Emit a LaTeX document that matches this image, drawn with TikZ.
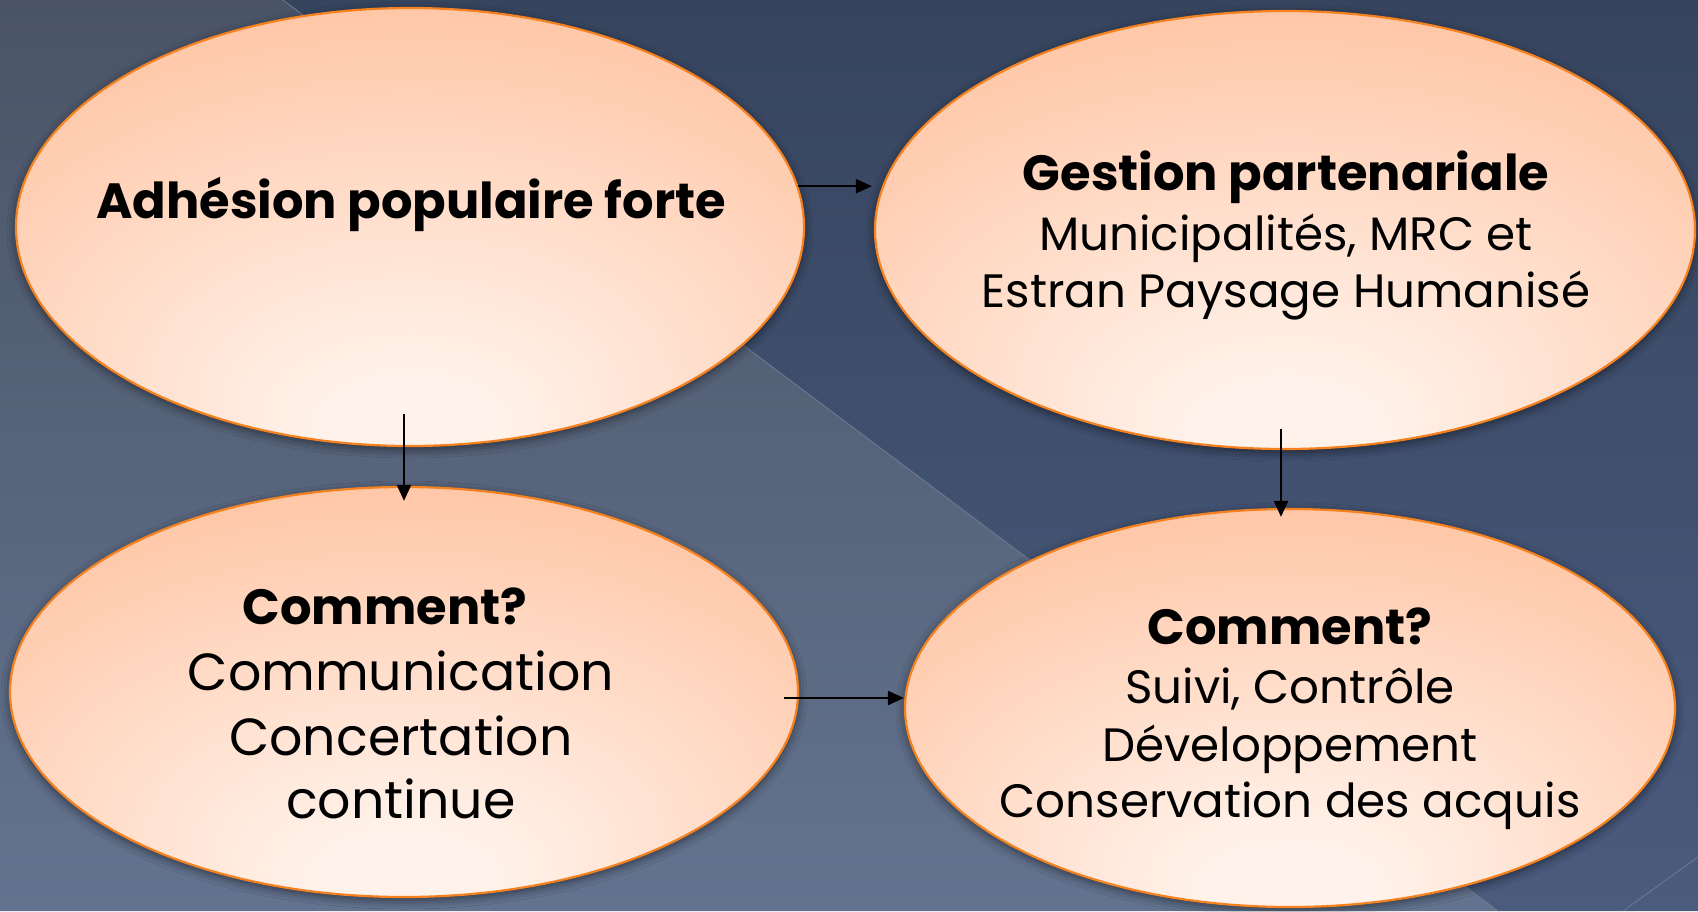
\documentclass[tikz,border=0pt]{standalone}
\usepackage{fontspec}
\setmainfont{Poppins}
\usetikzlibrary{shapes.geometric,arrows.meta,calc,shadows.blur}
\definecolor{bgLtop}{HTML}{4A5466}
\definecolor{bgLbot}{HTML}{63738F}
\definecolor{bgRtop}{HTML}{36445E}
\definecolor{bgRbot}{HTML}{4A5B7E}
\definecolor{pd}{HTML}{FFBD98}
\definecolor{pl}{HTML}{FFF2EA}
\definecolor{edge}{HTML}{F5821F}
\definecolor{seam}{HTML}{6A7A94}
\pgfdeclareradialshading{peachy}{\pgfpoint{0bp}{-26bp}}{color(0bp)=(pl); color(6bp)=(pl); color(40bp)=(pd); color(50bp)=(pd)}
\tikzset{
  bubble/.style={ellipse, draw=edge, line width=2.2pt, shading=peachy,
    blur shadow={shadow xshift=0pt, shadow yshift=-3pt, shadow blur radius=9pt, shadow opacity=55}},
  arr/.style={line width=2.4pt, black, -{Triangle[length=16pt,width=14pt]}},
  tb/.style={font=\fontsize{49.5}{56}\bfseries\selectfont, text=black, inner sep=0pt},
  tr/.style={font=\fontsize{46.8}{54}\selectfont, text=black, inner sep=0pt},
  tc/.style={font=\fontsize{52.2}{60}\selectfont, text=black, inner sep=0pt}
}
\begin{document}
\begin{tikzpicture}[x=1pt,y=-1pt]
\useasboundingbox (0,0) rectangle (1698,911);
% background
\shade[top color=bgRtop, bottom color=bgRbot] (283,0) -- (1698,0) -- (1698,911) -- (1498,911) -- cycle;
\shade[top color=bgLtop, bottom color=bgLbot] (0,0) -- (283,0) -- (1498,911) -- (0,911) -- cycle;
\draw[seam, line width=0.8pt] (283,0) -- (1498,911);
\draw[seam, line width=0.8pt] (1623,911) -- (1698,857);
% ellipses
\node[bubble, minimum width=788pt, minimum height=438pt] (A) at (410,227) {};
\node[bubble, minimum width=820pt, minimum height=438pt] (B) at (1285,230) {};
\node[bubble, minimum width=788pt, minimum height=410pt] (C) at (404,692) {};
\node[bubble, minimum width=770pt, minimum height=398pt] (D) at (1290,708) {};
% texts
\node[tb] (a1) at (411,204) {Adhésion populaire forte};
\node[tb] (b1) at (1286,177) {Gestion partenariale};
\node[tr] (b2) at (1286,238) {Municipalités, MRC et};
\node[tr] (b3) at (1286,296) {Estran Paysage Humanisé};
\node[tb] (c1) at (385,606) {Comment?};
\node[tc] (c2) at (401,671) {Communication};
\node[tc] (c3) at (401,736) {Concertation};
\node[tc] (c4) at (401,799) {continue};
\node[tb] (d1) at (1290,626) {Comment?};
\node[tr] (d2) at (1290,689) {Suivi, Contrôle};
\node[tr] (d3) at (1290,749) {Développement};
\node[tr] (d4) at (1290,806) {Conservation des acquis};
% connectors
\coordinate (p1) at (A.6);
\draw[arr] (p1) -- ($(p1 -| B.west)+(-2,0)$);
\coordinate (p2) at ($(A.south -| C.north)+(0,-33)$);
\draw[arr] (p2) -- ($(C.north)+(0,15)$);
\coordinate (p3) at ($(C.east)+(-15,6)$);
\draw[arr] (p3) -- (p3 -| D.west);
\coordinate (p4) at ($(B.south)+(-4,-21)$);
\draw[arr] (p4) -- ($(p4 |- D.north)+(0,9)$);
\end{tikzpicture}
\end{document}
